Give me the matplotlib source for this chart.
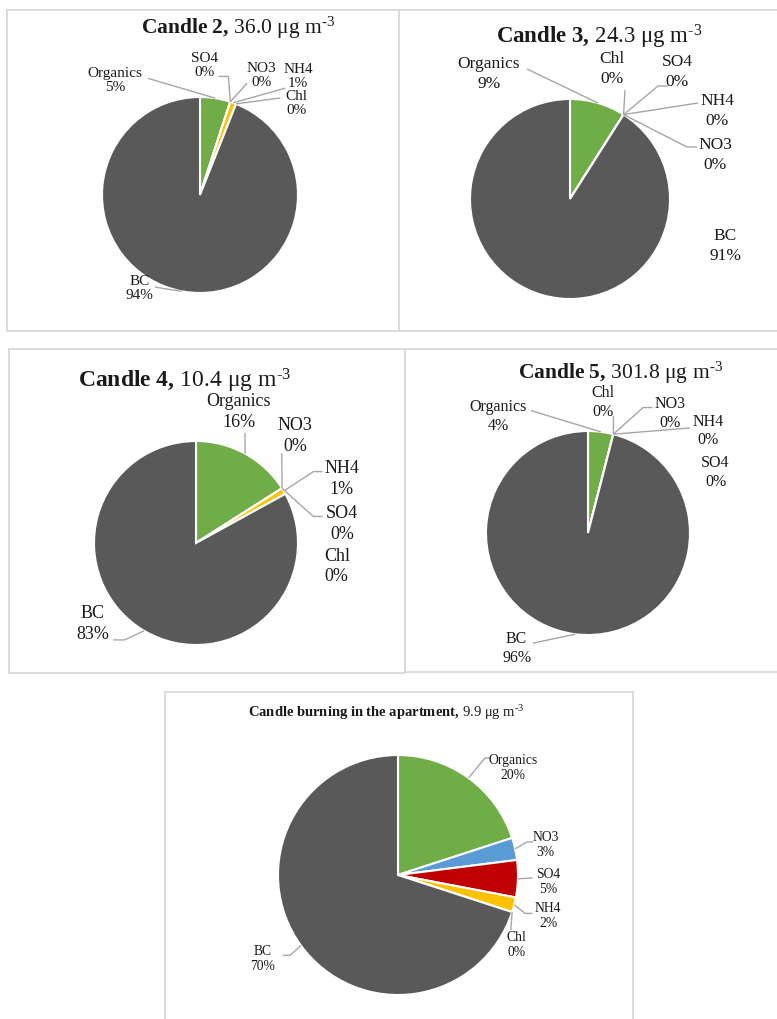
import numpy as np
import matplotlib.pyplot as plt

plt.rcParams['font.family'] = 'Liberation Serif'
plt.rcParams['mathtext.fontset'] = 'custom'
plt.rcParams['mathtext.rm'] = 'Liberation Serif'
plt.rcParams['mathtext.bf'] = 'Liberation Serif:bold'
plt.rcParams['mathtext.it'] = 'Liberation Serif:italic'

# species in the order Excel stacks them clockwise from 12 o'clock
species = ["Organics", "NO3", "SO4", "NH4", "Chl", "BC"]
species_colors = ["#70ad47", "#5b9bd5", "#c00000", "#ffc000", "#7030a0", "#595959"]

candle2 = [5, 0, 0, 1, 0, 94]
candle3 = [9, 0, 0, 0, 0, 91]
candle4 = [16, 0, 0, 1, 0, 83]
candle5 = [4, 0, 0, 0, 0, 96]
apartment = [20, 3, 5, 2, 0, 70]

titles = ["Candle 2", "Candle 3", "Candle 4", "Candle 5", "Candle burning in the apartment"]
mass_conc = [36.0, 24.3, 10.4, 301.8, 9.9]

W, H = 777, 1019
fig = plt.figure(figsize=(W / 100, H / 100), dpi=100)

LINE = "#a6a6a6"
TXT = "#1a1a1a"
BORDER = "#d9d9d9"


def draw_panel(values, title, conc, box, center, radius, title_xy, title_size,
               label_size, spacing, labels):
    x0, y0, x1, y1 = box
    ax = fig.add_axes([x0 / W, 1 - y1 / H, (x1 - x0) / W, (y1 - y0) / H])
    wedges, _ = ax.pie(values, colors=species_colors, startangle=90,
                       counterclock=False,
                       wedgeprops=dict(edgecolor="white", linewidth=1.5))
    cx, cy = center
    ax.set_xlim((x0 - cx) / radius, (x1 - cx) / radius)
    ax.set_ylim((cy - y1) / radius, (cy - y0) / radius)
    ax.set_aspect("auto")
    ax.set_frame_on(True)
    for sp in ax.spines.values():
        sp.set_color(BORDER)
        sp.set_linewidth(1.3)
    ax.set_xticks([])
    ax.set_yticks([])

    bold = r"$\mathbf{" + title.replace(" ", r"\ ") + r",}\,$"
    ax.text(title_xy[0], title_xy[1], bold + f"{conc:.1f} μg m$^{{\\text{{-3}}}}$",
            ha="center", va="center", fontsize=title_size, color=TXT)

    for name, (txy, path) in labels.items():
        i = species.index(name)
        ax.text(txy[0], txy[1], f"{name}\n{values[i]:.0f}%", ha="center",
                va="center", fontsize=label_size, color=TXT, linespacing=spacing)
        if path:
            w = wedges[i]
            mid = np.deg2rad((w.theta1 + w.theta2) / 2)
            pts = [(np.cos(mid), np.sin(mid))] + list(path)
            xs, ys = zip(*pts)
            ax.plot(xs, ys, color=LINE, lw=1.0, solid_capstyle="butt")
    return ax


# Candle 2
draw_panel(candle2, titles[0], mass_conc[0],
           box=(7, 10, 399, 331), center=(200, 195), radius=98,
           title_xy=(0.39, 1.71), title_size=15.5, label_size=11, spacing=1.1,
           labels={
               "Organics": ((-0.87, 1.17), [(-0.53, 1.19)]),
               "SO4": ((0.05, 1.32), [(0.29, 1.21), (0.19, 1.21)]),
               "NO3": ((0.63, 1.22), [(0.48, 1.14)]),
               "NH4": ((1.0, 1.21), [(0.87, 1.09)]),
               "Chl": ((0.98, 0.93), [(0.82, 0.99)]),
               "BC": ((-0.62, -0.95), [(-0.46, -0.94)]),
           })

# Candle 3
draw_panel(candle3, titles[1], mass_conc[1],
           box=(399, 10, 780, 331), center=(570, 199), radius=100,
           title_xy=(0.29, 1.62), title_size=16.5, label_size=12.5, spacing=1.35,
           labels={
               "Organics": ((-0.81, 1.25), [(-0.43, 1.30)]),
               "Chl": ((0.42, 1.30), [(0.55, 1.09)]),
               "SO4": ((1.07, 1.27), [(0.88, 1.13), (0.98, 1.13)]),
               "NH4": ((1.47, 0.88), [(1.28, 0.96)]),
               "NO3": ((1.45, 0.44), [(1.17, 0.52), (1.27, 0.52)]),
               "BC": ((1.55, -0.47), None),
           })

# Candle 4
draw_panel(candle4, titles[2], mass_conc[2],
           box=(9, 349, 405, 673), center=(196, 543), radius=102,
           title_xy=(-0.11, 1.59), title_size=17, label_size=13, spacing=1.3,
           labels={
               "Organics": ((0.42, 1.28), [(0.48, 1.08)]),
               "NO3": ((0.97, 1.05), [(0.84, 0.88)]),
               "NH4": ((1.43, 0.63), [(1.15, 0.70), (1.24, 0.70)]),
               "SO4": ((1.43, 0.19), [(1.15, 0.26), (1.24, 0.26)]),
               "Chl": ((1.38, -0.23), None),
               "BC": ((-1.01, -0.79), [(-0.70, -0.95), (-0.81, -0.95)]),
           })

# Candle 5
draw_panel(candle5, titles[3], mass_conc[3],
           box=(405, 349, 780, 672), center=(588, 533), radius=102,
           title_xy=(0.32, 1.57), title_size=15.5, label_size=11.5, spacing=1.25,
           labels={
               "Organics": ((-0.88, 1.14), [(-0.56, 1.20)]),
               "Chl": ((0.15, 1.28), [(0.25, 1.15)]),
               "NO3": ((0.80, 1.17), [(0.54, 1.23), (0.63, 1.23)]),
               "NH4": ((1.18, 1.0), [(1.0, 1.03)]),
               "SO4": ((1.25, 0.59), None),
               "BC": ((-0.70, -1.13), [(-0.54, -1.08)]),
           })

# indoor apartment measurement
draw_panel(apartment, titles[4], mass_conc[4],
           box=(165, 692, 633, 1030), center=(398, 875), radius=120,
           title_xy=(-0.10, 1.35), title_size=10.5, label_size=9.8, spacing=1.2,
           labels={
               "Organics": ((0.96, 0.89), [(0.725, 0.975), (0.77, 0.975)]),
               "NO3": ((1.23, 0.25), [(1.075, 0.275), (1.125, 0.275)]),
               "SO4": ((1.25, -0.06), [(1.12, -0.025)]),
               "NH4": ((1.25, -0.34), [(1.06, -0.32), (1.12, -0.32)]),
               "Chl": ((0.99, -0.58), [(0.94, -0.46)]),
               "BC": ((-1.125, -0.70), [(-0.90, -0.67), (-0.96, -0.67)]),
           })

fig.savefig("out.png", dpi=100, facecolor="white")
